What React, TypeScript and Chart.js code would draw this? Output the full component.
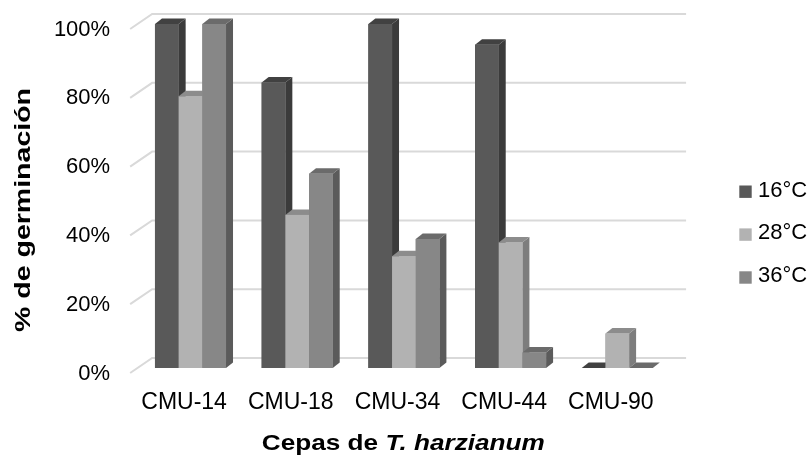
import React, { useEffect, useRef } from 'react';
import { Chart, registerables } from 'chart.js';

Chart.register(...registerables);

const categories = ['CMU-14', 'CMU-18', 'CMU-34', 'CMU-44', 'CMU-90'];
const seriesNames = ['16°C', '28°C', '36°C'];
const values16 = [100, 83, 100, 94, 0];
const values28 = [79, 44.5, 32.5, 36.5, 10];
const values36 = [100, 56.5, 37.5, 4.5, 0];
const yTickValues = [0, 20, 40, 60, 80, 100];
const yTickLabels = ['0%', '20%', '40%', '60%', '80%', '100%'];
const xTitleNormal = 'Cepas de ';
const xTitleItalic = 'T. harzianum';
const yTitle = '% de germinación';

const frontColors = ['#595959', '#b2b2b2', '#878787'];
const sideColors = ['#3b3b3b', '#7d7d7d', '#5b5b5b'];
const topColors = ['#414141', '#8c8c8c', '#6b6b6b'];

const FONT = '"Liberation Sans", Arial, sans-serif';
const DX = 7;
const DY = 5.5;

const bar3dPlugin = {
  id: 'bar3d',
  beforeDatasetsDraw(chart: any) {
    const { ctx, chartArea, scales } = chart;
    const ys = scales.y;
    ctx.save();
    ctx.strokeStyle = '#d9d9d9';
    ctx.lineWidth = 2;
    for (const v of yTickValues) {
      const py = ys.getPixelForValue(v);
      ctx.beginPath();
      ctx.moveTo(chartArea.left - 7, py + 5);
      ctx.lineTo(chartArea.left + 15, py - 10);
      ctx.lineTo(chartArea.right + 15.5, py - 10);
      ctx.stroke();
    }
    ctx.restore();
  },
  afterDatasetsDraw(chart: any) {
    const { ctx } = chart;
    const items: { el: any; di: number }[] = [];
    chart.data.datasets.forEach((_ds: any, di: number) => {
      const meta = chart.getDatasetMeta(di);
      meta.data.forEach((el: any) => items.push({ el, di }));
    });
    items.sort((a, b) => a.el.x - b.el.x);
    ctx.save();
    for (const { el, di } of items) {
      const { x, y, base, width } = el.getProps(['x', 'y', 'base', 'width'], true);
      const x0 = x - width / 2;
      const x1 = x + width / 2;
      const top = Math.min(y, base);
      const bot = Math.max(y, base);
      ctx.fillStyle = sideColors[di];
      ctx.beginPath();
      ctx.moveTo(x1, top);
      ctx.lineTo(x1 + DX, top - DY);
      ctx.lineTo(x1 + DX, bot - DY);
      ctx.lineTo(x1, bot);
      ctx.closePath();
      ctx.fill();
      ctx.fillStyle = topColors[di];
      ctx.beginPath();
      ctx.moveTo(x0, top);
      ctx.lineTo(x0 + DX, top - DY);
      ctx.lineTo(x1 + DX, top - DY);
      ctx.lineTo(x1, top);
      ctx.closePath();
      ctx.fill();
      ctx.fillStyle = frontColors[di];
      ctx.fillRect(x0, top, width, bot - top);
    }
    ctx.restore();
  },
  afterDraw(chart: any) {
    const { ctx } = chart;
    ctx.save();
    ctx.fillStyle = '#000000';
    // y title (stretched along its length to match the reference)
    ctx.save();
    ctx.font = `bold 22px ${FONT}`;
    const yw = ctx.measureText(yTitle).width;
    const ys = 244 / yw;
    ctx.translate(24, 210);
    ctx.rotate(-Math.PI / 2);
    ctx.scale(ys, 1);
    ctx.textAlign = 'center';
    ctx.textBaseline = 'middle';
    ctx.fillText(yTitle, 0, 0);
    ctx.restore();
    // x title
    ctx.save();
    ctx.textBaseline = 'alphabetic';
    ctx.textAlign = 'left';
    ctx.font = `bold 22px ${FONT}`;
    const w1 = ctx.measureText(xTitleNormal).width;
    ctx.font = `italic bold 22px ${FONT}`;
    const w2 = ctx.measureText(xTitleItalic).width;
    const xs = 283 / (w1 + w2);
    ctx.translate(403.3 - ((w1 + w2) * xs) / 2, 450);
    ctx.scale(xs, 1);
    ctx.font = `bold 22px ${FONT}`;
    ctx.fillText(xTitleNormal, 0, 0);
    ctx.font = `italic bold 22px ${FONT}`;
    ctx.fillText(xTitleItalic, w1, 0);
    ctx.restore();
    // legend
    ctx.font = `22px ${FONT}`;
    ctx.textAlign = 'left';
    ctx.textBaseline = 'middle';
    chart.data.datasets.forEach((ds: any, i: number) => {
      const cy = 190.5 + i * 42.9;
      ctx.fillStyle = frontColors[i];
      ctx.fillRect(739.3, cy - 5, 12.4, 12.4);
      ctx.fillStyle = '#000000';
      ctx.fillText(ds.label, 758, cy);
    });
    ctx.restore();
  },
};

export default function App() {
  const canvasRef = useRef<HTMLCanvasElement | null>(null);
  useEffect(() => {
    if (!canvasRef.current) return;
    const chart = new Chart(canvasRef.current, {
      type: 'bar',
      data: {
        labels: categories,
        datasets: [
          { label: seriesNames[0], data: values16, backgroundColor: frontColors[0], borderWidth: 0 },
          { label: seriesNames[1], data: values28, backgroundColor: frontColors[1], borderWidth: 0 },
          { label: seriesNames[2], data: values36, backgroundColor: frontColors[2], borderWidth: 0 },
        ],
      },
      options: {
        responsive: false,
        animation: false,
        events: [],
        layout: { padding: { left: 0, right: 141.4, top: 24, bottom: 0 } },
        datasets: { bar: { categoryPercentage: 0.666, barPercentage: 1 } },
        plugins: {
          legend: { display: false },
          tooltip: { enabled: false },
          title: { display: false },
        },
        scales: {
          x: {
            grid: { display: false, drawTicks: false },
            border: { display: false },
            ticks: {
              font: { family: FONT, size: 23 },
              color: '#000000',
              padding: 21,
              labelOffset: -6.4,
              maxRotation: 0,
              autoSkip: false,
            },
            afterFit: (s: any) => {
              s.height = 103;
              s.paddingLeft = 0;
              s.paddingRight = 0;
            },
          },
          y: {
            min: 0,
            max: 100,
            grid: { display: false, drawTicks: false },
            border: { display: false },
            ticks: {
              stepSize: 20,
              padding: 27,
              labelOffset: 5.5,
              font: { family: FONT, size: 22 },
              color: '#000000',
              callback: (v: any) => {
                const i = yTickValues.indexOf(Math.round(Number(v)));
                return i >= 0 ? yTickLabels[i] : '';
              },
            },
            afterFit: (s: any) => {
              s.width = 137.15;
              s.paddingTop = 0;
              s.paddingBottom = 0;
            },
          },
        },
      } as any,
      plugins: [bar3dPlugin],
    });
    return () => chart.destroy();
  }, []);
  return (
    <div style={{ position: 'absolute', left: 0, top: 0, width: 812, height: 471, background: '#ffffff' }}>
      <canvas ref={canvasRef} width={812} height={471} style={{ display: 'block' }} />
    </div>
  );
}
